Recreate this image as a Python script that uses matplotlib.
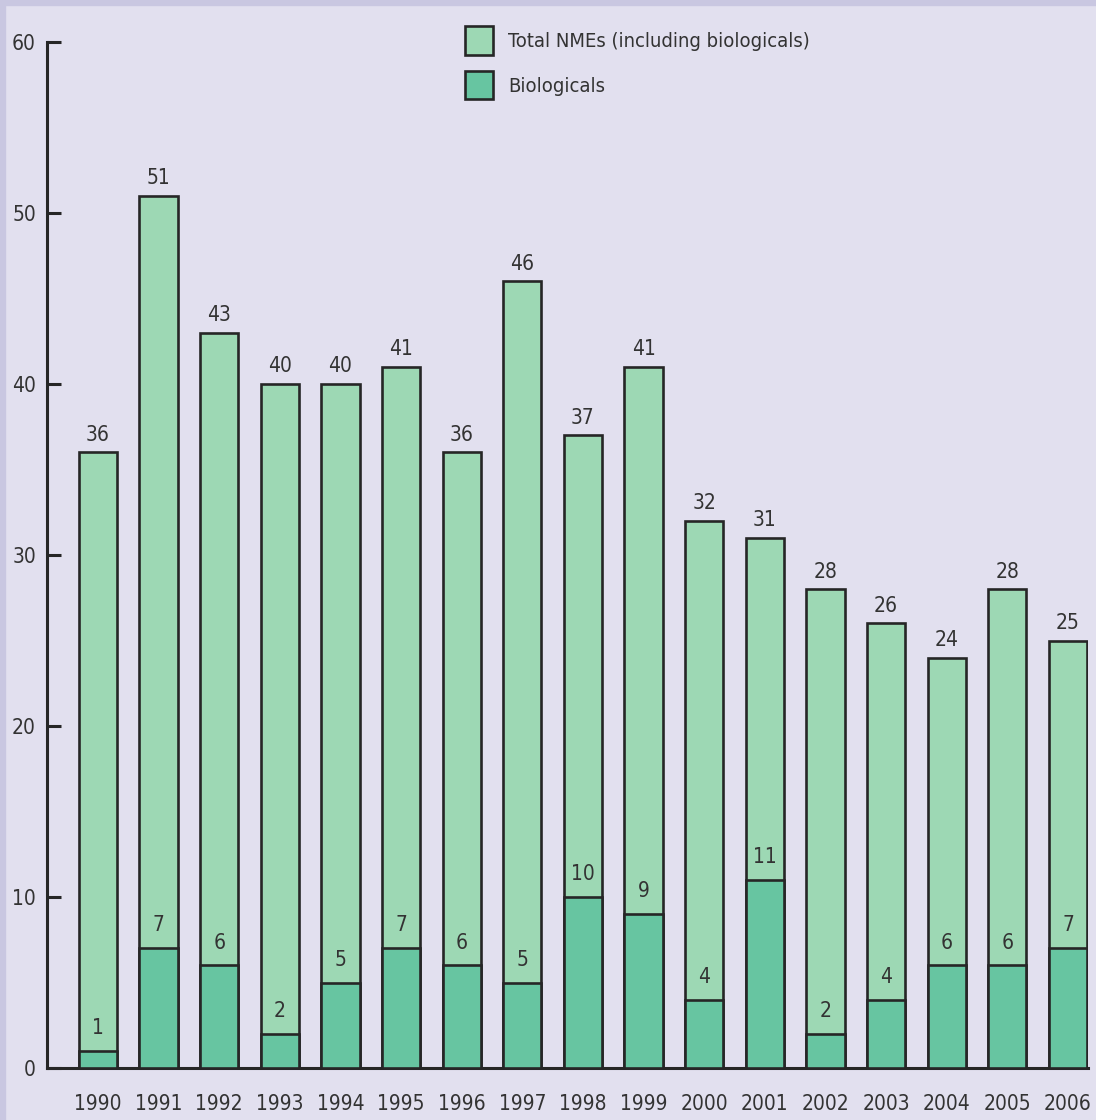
import numpy as np
import matplotlib.pyplot as plt
from matplotlib.patches import Rectangle, Patch

years = ['1990', '1991', '1992', '1993', '1994', '1995', '1996', '1997', '1998',
         '1999', '2000', '2001', '2002', '2003', '2004', '2005', '2006']
total_nmes = [36, 51, 43, 40, 40, 41, 36, 46, 37, 41, 32, 31, 28, 26, 24, 28, 25]
biologicals = [1, 7, 6, 2, 5, 7, 6, 5, 10, 9, 4, 11, 2, 4, 6, 6, 7]
y_ticks = [0, 10, 20, 30, 40, 50, 60]

BG = '#e2e0ef'
BORDER = '#c9c7e1'
LIGHT = '#9dd8b4'
DARK = '#67c5a1'
EDGE = '#262626'
TXT = '#333333'

plt.rcParams['font.family'] = ['DejaVu Sans']
plt.rcParams['font.stretch'] = 'condensed'

fig = plt.figure(figsize=(10.96, 11.2), dpi=100, facecolor=BG)
# darker strips along top and left edge
fig.patches.append(Rectangle((0, 1 - 5 / 1120), 1, 5 / 1120, transform=fig.transFigure,
                             color=BORDER, zorder=0))
fig.patches.append(Rectangle((0, 0), 5 / 1096, 1, transform=fig.transFigure,
                             color=BORDER, zorder=0))

ax = fig.add_axes([47 / 1096, 52 / 1120, (1088 - 47) / 1096, (1068 - 42) / 1120])
ax.set_facecolor(BG)

x = np.arange(len(years))
w = 0.63
ax.bar(x, total_nmes, width=w, color=LIGHT, edgecolor=EDGE, linewidth=1.9, zorder=2)
ax.bar(x, biologicals, width=w, color=DARK, edgecolor=EDGE, linewidth=1.9, zorder=3)

for xi, t, b in zip(x, total_nmes, biologicals):
    ax.text(xi, t + 0.45, str(t), ha='center', va='bottom', fontsize=15, color=TXT)
    ax.text(xi, b + 0.75, str(b), ha='center', va='bottom', fontsize=15, color=TXT, zorder=4)

ax.set_xlim(-0.84, 16.33)
ax.set_ylim(0, 60)
ax.set_yticks(y_ticks)
ax.set_xticks(x)
ax.set_xticklabels(years)

for s in ['top', 'right']:
    ax.spines[s].set_visible(False)
for s in ['left', 'bottom']:
    ax.spines[s].set_color(EDGE)
    ax.spines[s].set_linewidth(2.2)
ax.tick_params(axis='y', direction='in', length=10, width=2.2, color=EDGE,
               labelsize=15, labelcolor=TXT, pad=8)
ax.tick_params(axis='x', length=0, labelsize=15, labelcolor=TXT, pad=19)

handles = [Patch(facecolor=LIGHT, edgecolor=EDGE, linewidth=1.9),
           Patch(facecolor=DARK, edgecolor=EDGE, linewidth=1.9)]
ax.legend(handles, ['Total NMEs (including biologicals)', 'Biologicals'],
          loc='upper left', bbox_to_anchor=(0.384, 1.033), frameon=False,
          fontsize=14.5, handlelength=1.38, handleheight=1.8, labelspacing=0.8,
          handletextpad=0.75, labelcolor=TXT)

fig.savefig('out.png', dpi=100, facecolor=BG)
